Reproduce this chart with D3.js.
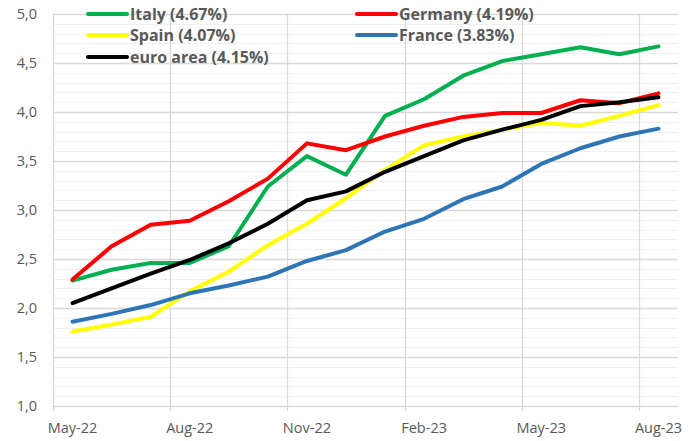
<!DOCTYPE html>
<html>
<head>
<meta charset="utf-8">
<script src="https://cdn.jsdelivr.net/npm/d3@7"></script>
<style>
  body { margin: 0; background: #fff; }
  svg { display: block; }
</style>
</head>
<body>
<svg id="chart"></svg>
<script>
const width = 697;
const height = 441;

// Months on the x axis
const months = ["May-22", "Jun-22", "Jul-22", "Aug-22", "Sep-22", "Oct-22", "Nov-22", "Dec-22",
                "Jan-23", "Feb-23", "Mar-23", "Apr-23", "May-23", "Jun-23", "Jul-23", "Aug-23"];

// Series values
const italy   = [2.28, 2.39, 2.46, 2.46, 2.63, 3.24, 3.55, 3.36, 3.96, 4.13, 4.37, 4.52, 4.59, 4.66, 4.59, 4.67];
const germany = [2.29, 2.63, 2.85, 2.89, 3.09, 3.32, 3.68, 3.61, 3.75, 3.86, 3.95, 3.99, 3.99, 4.12, 4.09, 4.19];
const spain   = [1.76, 1.83, 1.91, 2.17, 2.37, 2.64, 2.86, 3.12, 3.41, 3.66, 3.75, 3.82, 3.89, 3.86, 3.96, 4.07];
const france  = [1.86, 1.94, 2.03, 2.15, 2.23, 2.32, 2.48, 2.59, 2.78, 2.91, 3.11, 3.24, 3.47, 3.63, 3.75, 3.83];
const euro    = [2.05, 2.20, 2.35, 2.49, 2.66, 2.86, 3.10, 3.19, 3.39, 3.55, 3.71, 3.82, 3.92, 4.06, 4.10, 4.15];

const yTicks = [1.0, 1.5, 2.0, 2.5, 3.0, 3.5, 4.0, 4.5, 5.0];
const xLabels = ["May-22", "Aug-22", "Nov-22", "Feb-23", "May-23", "Aug-23"];

// Drawing order matches the legend order
const series = [
    { name: "Italy (4.67%)",     values: italy,   color: "#00B050" },
    { name: "Germany (4.19%)",   values: germany, color: "#FF0000" },
    { name: "Spain (4.07%)",     values: spain,   color: "#FFFF00" },
    { name: "France (3.83%)",    values: france,  color: "#2E75B6" },
    { name: "euro area (4.15%)", values: euro,    color: "#000000" }
];

const margin = { top: 14, right: 19, bottom: 35, left: 53 };

const svg = d3.select("#chart")
    .attr("width", width)
    .attr("height", height);

const x = d3.scaleBand()
    .domain(months)
    .range([margin.left, width - margin.right]);

const y = d3.scaleLinear()
    .domain([1, 5])
    .range([height - margin.bottom, margin.top]);

// Minor horizontal gridlines every 0.1
const minor = d3.range(1.1, 5.0, 0.1).filter(v => Math.abs(v * 2 - Math.round(v * 2)) > 0.01);
svg.append("g")
    .selectAll("line")
    .data(minor)
    .join("line")
    .attr("x1", margin.left)
    .attr("x2", width - margin.right)
    .attr("y1", d => Math.round(y(d)) + 0.5)
    .attr("y2", d => Math.round(y(d)) + 0.5)
    .attr("stroke", "#f0f0f0")
    .attr("stroke-width", 1);

// Major horizontal gridlines
svg.append("g")
    .selectAll("line")
    .data(yTicks)
    .join("line")
    .attr("x1", margin.left)
    .attr("x2", width - margin.right)
    .attr("y1", d => Math.round(y(d)) + 0.5)
    .attr("y2", d => Math.round(y(d)) + 0.5)
    .attr("stroke", "#d9d9d9")
    .attr("stroke-width", 1.3);

// Vertical gridlines at category boundaries every 3 months, ticks below the axis
const xGrid = xLabels.map(m => x(m));
svg.append("g")
    .selectAll("line")
    .data(xGrid)
    .join("line")
    .attr("x1", d => Math.round(d) + 0.5)
    .attr("x2", d => Math.round(d) + 0.5)
    .attr("y1", margin.top)
    .attr("y2", y(1) + 5)
    .attr("stroke", "#d9d9d9")
    .attr("stroke-width", 1.3);

// Y axis labels
svg.append("g")
    .selectAll("text")
    .data(yTicks)
    .join("text")
    .attr("x", 37)
    .attr("y", d => y(d))
    .attr("dy", "0.35em")
    .attr("text-anchor", "end")
    .attr("font-family", "'Open Sans', sans-serif")
    .attr("font-size", "14.5px")
    .attr("fill", "#595959")
    .text(d => d3.format(".1f")(d).replace(".", ","));

// X axis labels
svg.append("g")
    .selectAll("text")
    .data(xLabels)
    .join("text")
    .attr("x", d => x(d) + x.bandwidth() / 2)
    .attr("y", 428)
    .attr("dy", "0.35em")
    .attr("text-anchor", "middle")
    .attr("font-family", "'Open Sans', sans-serif")
    .attr("font-size", "14.5px")
    .attr("fill", "#595959")
    .text(d => d);

// Lines
const line = d3.line()
    .x((d, i) => x(months[i]) + x.bandwidth() / 2)
    .y(d => y(d));

svg.append("g")
    .selectAll("path")
    .data(series)
    .join("path")
    .attr("d", d => line(d.values))
    .attr("fill", "none")
    .attr("stroke", d => d.color)
    .attr("stroke-width", 4)
    .attr("stroke-linejoin", "round")
    .attr("stroke-linecap", "round");

// Legend, two columns
const legendPos = [
    { x: 88,  y: 14 },
    { x: 357, y: 14 },
    { x: 88,  y: 35 },
    { x: 357, y: 35 },
    { x: 88,  y: 57 }
];

const legend = svg.append("g")
    .selectAll("g")
    .data(series)
    .join("g")
    .attr("transform", (d, i) => `translate(${legendPos[i].x},${legendPos[i].y})`);

legend.append("line")
    .attr("x1", 0)
    .attr("x2", 39)
    .attr("stroke", d => d.color)
    .attr("stroke-width", 4)
    .attr("stroke-linecap", "round");

legend.append("text")
    .attr("x", 42)
    .attr("dy", "0.35em")
    .attr("font-family", "'Open Sans', sans-serif")
    .attr("font-weight", "bold")
    .attr("font-size", "16px")
    .attr("fill", "#595959")
    .text(d => d.name);
</script>
</body>
</html>
